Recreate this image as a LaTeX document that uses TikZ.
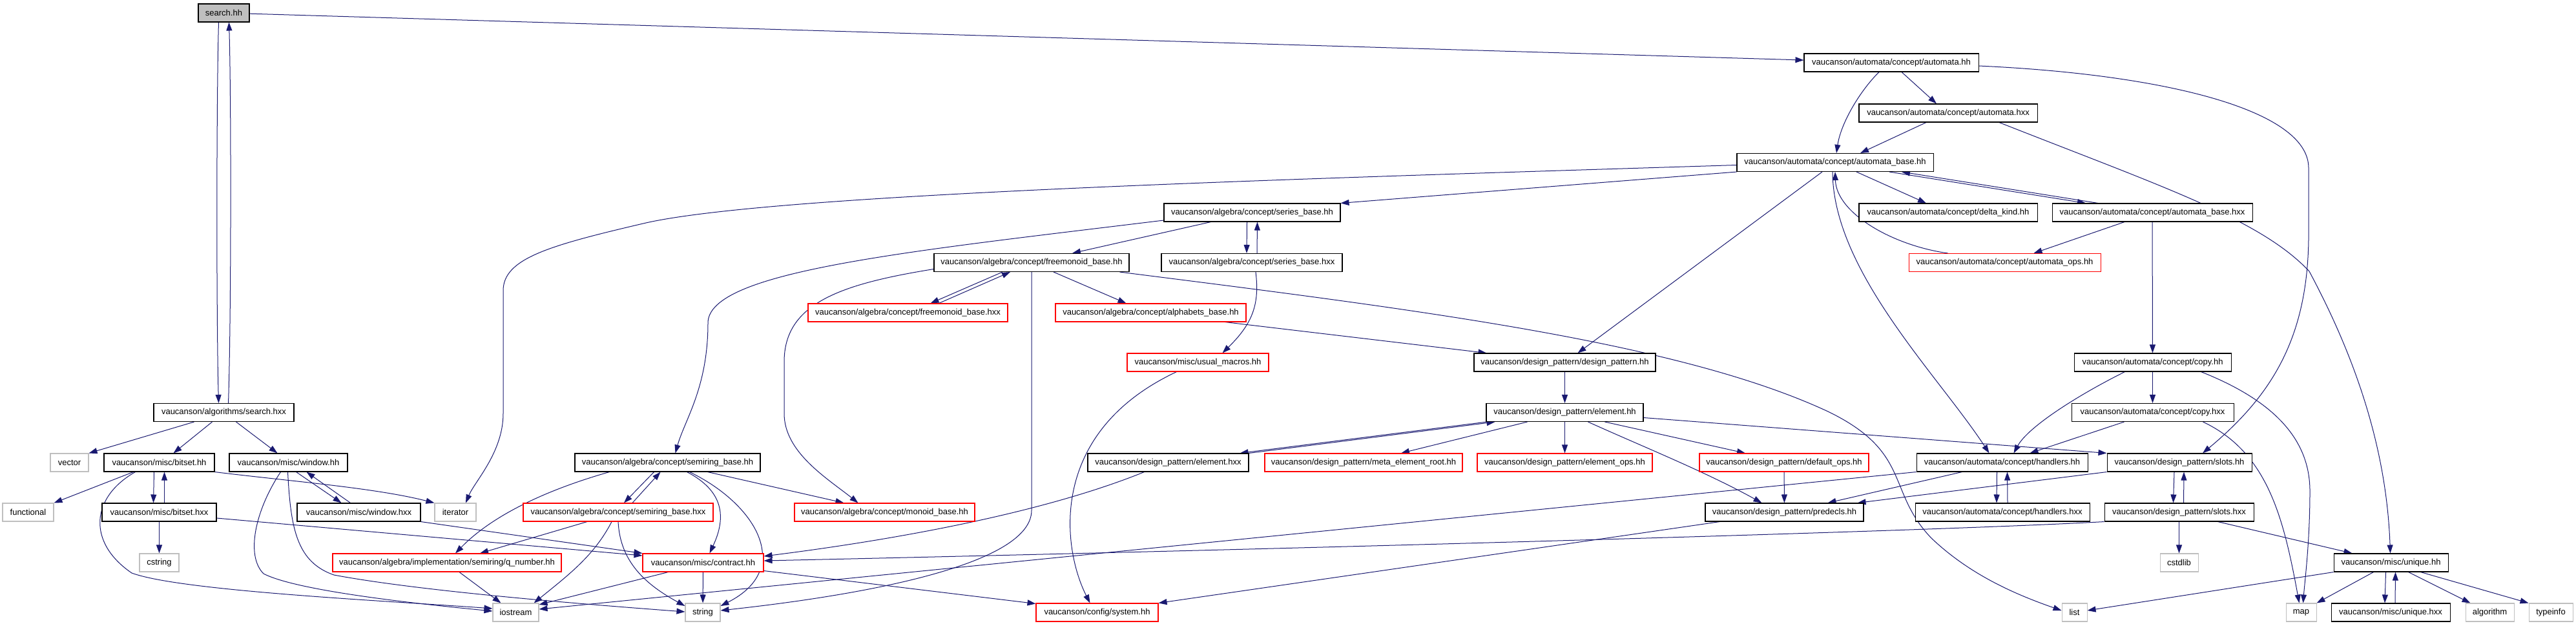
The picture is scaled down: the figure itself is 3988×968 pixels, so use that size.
\documentclass[tikz,border=0pt]{standalone}
\usepackage{fontspec}
\setmainfont{Liberation Sans}
\usetikzlibrary{arrows.meta,calc}
\definecolor{navy}{HTML}{191970}
\definecolor{grey75}{HTML}{BFBFBF}
\pgfdeclarelayer{bg}
\pgfsetlayers{bg,main}
\newcommand{\nodefnt}{\fontsize{9.75pt}{11pt}\selectfont}
\tikzset{
  nd/.style={rectangle, minimum height=21pt, inner sep=0pt, font=\nodefnt, fill=white, line width=0.8pt},
  doc/.style={nd, draw=black},
  trunc/.style={nd, draw=red},
  ext/.style={nd, draw=grey75},
  rootnd/.style={nd, draw=black, fill=grey75},
  w/.style={minimum width=#1*0.75pt},
  edge/.style={draw=navy, line width=0.75pt, -{Triangle[length=9.75pt,width=6.75pt]}},
}
\begin{document}
\begin{tikzpicture}[x=0.75pt,y=-0.75pt]
\useasboundingbox (0,0) rectangle (3988,968);
% row 0
\node[rootnd,w=79] (root) at (346.5,20) {search.hh};
% row 1-2
\node[doc,w=270] (am) at (2928,97) {vaucanson/automata/concept/automata.hh};
\node[doc,w=276] (amx) at (3016,175) {vaucanson/automata/concept/automata.hxx};
% row 3
\node[doc,w=304] (ab) at (2841,251.5) {vaucanson/automata/concept/automata\_base.hh};
% row 4
\node[doc,w=273] (sb) at (1938.5,329) {vaucanson/algebra/concept/series\_base.hh};
\node[doc,w=276] (dk) at (3016,329) {vaucanson/automata/concept/delta\_kind.hh};
\node[doc,w=310] (abx) at (3332,329) {vaucanson/automata/concept/automata\_base.hxx};
% row 5
\node[doc,w=302] (fm) at (1597,406.5) {vaucanson/algebra/concept/freemonoid\_base.hh};
\node[doc,w=280] (sbx) at (1938,406.5) {vaucanson/algebra/concept/series\_base.hxx};
\node[trunc,w=297] (ops) at (3103.5,406.5) {vaucanson/automata/concept/automata\_ops.hh};
% row 6
\node[trunc,w=309] (fmx) at (1405.5,484) {vaucanson/algebra/concept/freemonoid\_base.hxx};
\node[trunc,w=295] (alpha) at (1781.5,484) {vaucanson/algebra/concept/alphabets\_base.hh};
% row 7
\node[trunc,w=219] (um) at (1854.5,561) {vaucanson/misc/usual\_macros.hh};
\node[doc,w=281] (dp) at (2422.5,561) {vaucanson/design\_pattern/design\_pattern.hh};
\node[doc,w=243] (copy) at (3332.5,561) {vaucanson/automata/concept/copy.hh};
% row 8
\node[doc,w=217] (shx) at (346.5,638.5) {vaucanson/algorithms/search.hxx};
\node[doc,w=243] (el) at (2422.5,638.5) {vaucanson/design\_pattern/element.hh};
\node[doc,w=251] (copyx) at (3332.5,638.5) {vaucanson/automata/concept/copy.hxx};
% row 9
\node[ext,w=59] (vector) at (107.5,716) {vector};
\node[doc,w=171] (bs) at (246.5,716) {vaucanson/misc/bitset.hh};
\node[doc,w=183] (win) at (446.5,716) {vaucanson/misc/window.hh};
\node[doc,w=287] (sr) at (1033.5,716) {vaucanson/algebra/concept/semiring\_base.hh};
\node[doc,w=249] (elx) at (1808.5,716) {vaucanson/design\_pattern/element.hxx};
\node[trunc,w=306] (meta) at (2111,716) {vaucanson/design\_pattern/meta\_element\_root.hh};
\node[trunc,w=271] (elops) at (2422.5,716) {vaucanson/design\_pattern/element\_ops.hh};
\node[trunc,w=262] (defops) at (2762,716) {vaucanson/design\_pattern/default\_ops.hh};
\node[doc,w=265] (hd) at (3099.5,716) {vaucanson/automata/concept/handlers.hh};
\node[doc,w=224] (sl) at (3374,716) {vaucanson/design\_pattern/slots.hh};
% row 10
\node[ext,w=79] (functional) at (43.5,793) {functional};
\node[doc,w=177] (bsx) at (246.5,793) {vaucanson/misc/bitset.hxx};
\node[doc,w=191] (winx) at (555.5,793) {vaucanson/misc/window.hxx};
\node[ext,w=64] (iterator) at (705,793) {iterator};
\node[trunc,w=294] (srx) at (957,793) {vaucanson/algebra/concept/semiring\_base.hxx};
\node[trunc,w=279] (monoid) at (1369.5,793) {vaucanson/algebra/concept/monoid\_base.hh};
\node[doc,w=245] (pred) at (2762.5,793) {vaucanson/design\_pattern/predecls.hh};
\node[doc,w=270] (hdx) at (3100,793) {vaucanson/automata/concept/handlers.hxx};
\node[doc,w=231] (slx) at (3373.5,793) {vaucanson/design\_pattern/slots.hxx};
% row 11
\node[ext,w=61] (cstring) at (246.5,871) {cstring};
\node[trunc,w=354] (qn) at (692,871) {vaucanson/algebra/implementation/semiring/q\_number.hh};
\node[trunc,w=187] (contract) at (1088.5,871) {vaucanson/misc/contract.hh};
\node[ext,w=59] (cstdlib) at (3373.5,871) {cstdlib};
\node[doc,w=177] (uq) at (3701.5,871) {vaucanson/misc/unique.hh};
% row 12
\node[ext,w=71] (iostream) at (798.5,948) {iostream};
\node[ext,w=54] (string) at (1088,948) {string};
\node[trunc,w=189] (system) at (1698.5,948) {vaucanson/config/system.hh};
\node[ext,w=39] (list) at (3211.5,948) {list};
\node[ext,w=47] (map) at (3562.5,948) {map};
\node[doc,w=184] (uqx) at (3701,948) {vaucanson/misc/unique.hxx};
\node[ext,w=75] (algorithm) at (3854.5,948) {algorithm};
\node[ext,w=68] (typeinfo) at (3949,948) {typeinfo};

\begin{pgfonlayer}{bg}
% search.hh
\draw[edge] (root) -- (am);
\draw[edge] ($(root.south)+(-8,0)$) .. controls (335,150) and (335,500) .. ($(shx.north)+(-8,0)$);
\draw[edge] ($(shx.north)+(7,0)$) .. controls (358,500) and (358,150) .. ($(root.south)+(8,0)$);
% search.hxx
\draw[edge] ($(shx.south)+(-46,0)$) -- (vector.north east);
\draw[edge] ($(shx.south)+(-18,0)$) -- ($(bs.north)+(22,0)$);
\draw[edge] ($(shx.south)+(19,0)$) -- ($(win.north)+(-17,0)$);
% automata.hh
\draw[edge] ($(am.south)+(16,0)$) -- ($(amx.north)+(-18,0)$);
\draw[edge] ($(am.south)+(-19,0)$) .. controls (2880,140) and (2850,190) .. ($(ab.north)+(2,0)$);
\draw[edge] ($(am.east)+(0,5)$) .. controls (3350,115) and (3574,170) .. (3574,260) -- (3574,370) .. controls (3572,520) and (3520,610) .. ($(sl.north)+(36,0)$);
% automata.hxx
\draw[edge] ($(amx.south)+(-34,0)$) -- ($(ab.north)+(39,0)$);
\draw[edge] ($(amx.south)+(79,0)$) .. controls (3350,290) and (3500,340) .. (3575,420) .. controls (3650,560) and (3695,700) .. ($(uq.north)+(-1,0)$);
% automata_base.hh
\draw[edge] (ab.south west) -- (sb.north east);
\draw[edge] ($(ab.west)+(0,4)$) .. controls (2000,277) and (1200,300) .. (1000,345) .. controls (850,380) and (779,400) .. (779,450) -- (779,640) .. controls (779,700) and (735,745) .. ($(iterator.north)+(16,0)$);
\draw[edge] ($(abx.north)+(-84,0)$) -- ($(ab.south)+(103,0)$);
\draw[edge] ($(ab.south)+(84,0)$) -- ($(abx.north)+(-103,0)$);
\draw[edge] ($(ab.south)+(33,0)$) -- ($(dk.north)+(-34,0)$);
\draw[edge] ($(ab.south)+(-20,0)$) -- ($(dp.north)+(20,0)$);
\draw[edge] ($(ab.south)+(-4,0)$) .. controls (2838,420) and (3000,580) .. ($(hd.north)+(-20,0)$);
\draw[edge] ($(ops.north)+(-88,0)$) .. controls (2930,380) and (2843,330) .. (ab.south);
% series_base
\draw[edge] ($(sb.south)+(-64,0)$) -- ($(fm.north)+(63,0)$);
\draw[edge] ($(sb.south)+(-8,0)$) -- ($(sbx.north)+(-8,0)$);
\draw[edge] ($(sbx.north)+(8,0)$) -- ($(sb.south)+(8,0)$);
\draw[edge] ($(sb.west)+(0,12)$) .. controls (1400,390) and (1096,420) .. (1096,500) .. controls (1096,600) and (1060,650) .. ($(sr.north)+(12,0)$);
\draw[edge] ($(sbx.south)+(6,0)$) .. controls (1950,470) and (1940,500) .. ($(um.north)+(38,0)$);
% freemonoid_base
\draw[edge] ($(fm.south)+(-45,0)$) -- ($(fmx.north)+(35,0)$);
\draw[edge] ($(fmx.north)+(48,0)$) -- ($(fm.south)+(-33,0)$);
\draw[edge] ($(fm.south)+(34,0)$) -- ($(alpha.north)+(-38,0)$);
\draw[edge] ($(fm.west)+(0,10)$) .. controls (1300,440) and (1214,470) .. (1214,560) -- (1214,640) .. controls (1214,700) and (1280,740) .. ($(monoid.north)+(-41,0)$);
\draw[edge] (fm.south) -- (1597,790) .. controls (1597,880) and (1300,925) .. ($(string.east)+(0,-3)$);
\draw[edge] ($(fm.south east)+(-15,0)$) .. controls (2200,480) and (2600,530) .. (2830,637) .. controls (2960,700) and (2920,760) .. (2990,833) .. controls (3050,890) and (3120,920) .. ($(list.west)+(0,-3)$);
% alphabets, usual macros, design pattern
\draw[edge] ($(alpha.south east)+(-33,0)$) -- ($(dp.north west)+(20,0)$);
\draw[edge] ($(um.south)+(-33,0)$) .. controls (1620,670) and (1645,850) .. ($(system.north)+(-11,0)$);
\draw[edge] (dp) -- (el);
% element.hh
\draw[edge] (elx.north east) -- ($(el.south west)+(14,0)$);
\draw[edge] ($(el.south west)+(1,0)$) -- ($(elx.north east)+(-14,0)$);
\draw[edge] ($(el.south west)+(64,0)$) -- ($(meta.north)+(58,0)$);
\draw[edge] (el) -- (elops);
\draw[edge] ($(el.south)+(62,0)$) -- ($(defops.north)+(-60,0)$);
\draw[edge] ($(el.south)+(36,0)$) .. controls (2540,690) and (2640,730) .. ($(pred.north)+(-35,0)$);
\draw[edge] ($(el.east)+(0,8)$) -- (sl.north west);
\draw[edge] ($(elx.south)+(-37,0)$) .. controls (1600,800) and (1350,840) .. ($(contract.east)+(0,-10)$);
\draw[edge] (defops) -- (pred);
% handlers, slots
\draw[edge] ($(hd.south west)+(71,0)$) -- ($(pred.north)+(67,0)$);
\draw[edge] (sl.south west) -- ($(pred.north east)+(-10,0)$);
\draw[edge] (hd.south west) -- ($(iostream.east)+(0,-5)$);
\draw[edge] (slx.south west) .. controls (3000,822) and (2000,850) .. ($(contract.east)+(0,-3)$);
\draw[edge] ($(pred.south west)+(23,0)$) -- (system.north east);
\draw[edge] ($(hd.south)+(-8,0)$) -- ($(hdx.north)+(-9,0)$);
\draw[edge] ($(hdx.north)+(8,0)$) -- ($(hd.south)+(8,0)$);
\draw[edge] ($(sl.south)+(-8,0)$) -- ($(slx.north)+(-9,0)$);
\draw[edge] ($(slx.north)+(7,0)$) -- ($(sl.south)+(7,0)$);
\draw[edge] (slx) -- (cstdlib);
\draw[edge] ($(slx.south)+(60,0)$) -- ($(uq.north)+(-60,0)$);
% copy
\draw[edge] ($(copyx.south)+(-44,0)$) -- ($(hd.north)+(43,0)$);
\draw[edge] ($(copyx.south)+(78,0)$) .. controls (3510,700) and (3535,800) .. ($(map.north)+(-3,0)$);
\draw[edge] ($(copy.south)+(75,0)$) .. controls (3520,620) and (3576,680) .. (3576,760) .. controls (3576,840) and (3568,900) .. ($(map.north)+(3,0)$);
\draw[edge] (copy) -- (copyx);
\draw[edge] ($(copy.south)+(-43,0)$) .. controls (3220,610) and (3140,660) .. ($(hd.north)+(18,0)$);
\draw[edge] (abx) -- (copy);
\draw[edge] ($(abx.south)+(-43,0)$) -- ($(ops.north)+(45,0)$);
% unique
\draw[edge] (uq.south west) -- ($(list.east)+(0,-3)$);
\draw[edge] ($(uq.south)+(-27,0)$) -- (map.north east);
\draw[edge] ($(uq.south)+(-8,0)$) -- ($(uqx.north)+(-9,0)$);
\draw[edge] ($(uqx.north)+(7,0)$) -- ($(uq.south)+(7,0)$);
\draw[edge] ($(uq.south)+(27,0)$) -- ($(algorithm.north)+(-30,0)$);
\draw[edge] ($(uq.south)+(46,0)$) -- (typeinfo.north west);
% bitset
\draw[edge] ($(bs.south west)+(46,0)$) -- (functional.north east);
\draw[edge] ($(bs.south)+(-8,0)$) -- ($(bsx.north)+(-9,0)$);
\draw[edge] ($(bsx.north)+(8,0)$) -- ($(bs.south)+(8,0)$);
\draw[edge] ($(bs.south west)+(49,0)$) .. controls (140,770) and (135,840) .. (204,887) .. controls (280,915) and (600,930) .. ($(iostream.west)+(0,-6)$);
\draw[edge] (bs.south east) .. controls (450,745) and (580,755) .. (iterator.north west);
\draw[edge] (bsx) -- (cstring);
\draw[edge] ($(bsx.east)+(0,9)$) -- ($(contract.west)+(0,-11)$);
% window
\draw[edge] ($(win.south)+(12,0)$) -- ($(winx.north)+(-27,0)$);
\draw[edge] ($(winx.north)+(-13,0)$) -- ($(win.south)+(28,0)$);
\draw[edge] ($(win.south)+(-12,0)$) .. controls (395,790) and (380,860) .. (408,888) .. controls (460,915) and (650,935) .. ($(iostream.west)+(0,-2)$);
\draw[edge] ($(win.south)+(-1,0)$) .. controls (450,820) and (460,870) .. (517,890) .. controls (650,915) and (900,935) .. ($(string.west)+(0,-1)$);
\draw[edge] (winx.south east) -- (contract.north west);
% semiring
\draw[edge] ($(sr.south)+(-21,0)$) -- ($(srx.north)+(9,0)$);
\draw[edge] ($(srx.north)+(22,0)$) -- ($(sr.south)+(-11,0)$);
\draw[edge] ($(sr.south west)+(54,0)$) .. controls (840,760) and (760,800) .. ($(qn.north)+(13,0)$);
\draw[edge] ($(sr.south)+(62,0)$) -- ($(monoid.north)+(-63,0)$);
\draw[edge] ($(sr.south)+(30,0)$) .. controls (1120,760) and (1125,800) .. ($(contract.north)+(10,0)$);
\draw[edge] ($(sr.south)+(34,0)$) .. controls (1170,780) and (1230,880) .. ($(string.east)+(0,-10)$);
\draw[edge] ($(srx.south)+(-48,0)$) -- ($(qn.north)+(51,0)$);
\draw[edge] ($(srx.south)+(-10,0)$) .. controls (920,860) and (880,890) .. ($(iostream.north east)+(-8,0)$);
\draw[edge] (srx.south) .. controls (960,870) and (1000,905) .. ($(string.west)+(0,-10)$);
\draw[edge] ($(qn.south)+(19,0)$) -- ($(iostream.north)+(-23,0)$);
% contract
\draw[edge] ($(contract.south west)+(40,0)$) -- ($(iostream.east)+(0,-12)$);
\draw[edge] (contract) -- (string);
\draw[edge] ($(contract.south east)+(0,-2)$) -- ($(system.north west)+(0,1)$);
\end{pgfonlayer}
\end{tikzpicture}
\end{document}
